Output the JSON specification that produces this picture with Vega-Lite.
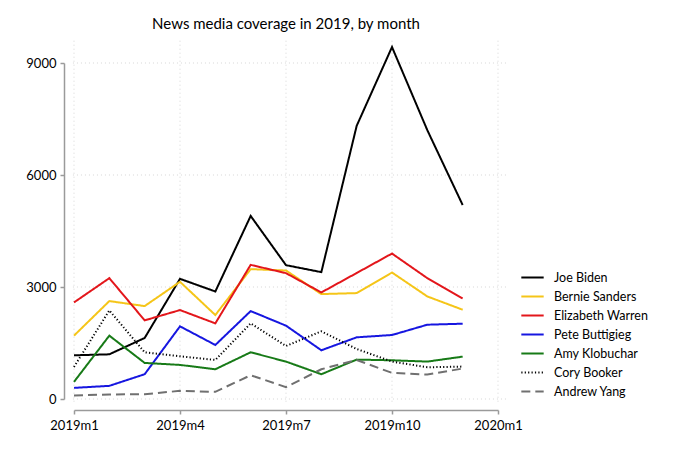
{
  "$schema": "https://vega.github.io/schema/vega-lite/v6.json",
  "description": "News media coverage in 2019, by month",
  "width": 424,
  "height": 336,
  "autosize": "none",
  "padding": {"left": 74, "top": 63, "right": 182, "bottom": 54},
  "title": {
    "text": "News media coverage in 2019, by month",
    "font": "Lato",
    "fontSize": 15,
    "fontWeight": "normal",
    "color": "#000",
    "anchor": "middle",
    "frame": "group",
    "offset": 7
  },
  "datasets": {
    "cov": [
      {"m": 0, "name": "Joe Biden", "v": 1170},
      {"m": 1, "name": "Joe Biden", "v": 1197},
      {"m": 2, "name": "Joe Biden", "v": 1635},
      {"m": 3, "name": "Joe Biden", "v": 3219},
      {"m": 4, "name": "Joe Biden", "v": 2880},
      {"m": 5, "name": "Joe Biden", "v": 4903},
      {"m": 6, "name": "Joe Biden", "v": 3585},
      {"m": 7, "name": "Joe Biden", "v": 3398},
      {"m": 8, "name": "Joe Biden", "v": 7316},
      {"m": 9, "name": "Joe Biden", "v": 9427},
      {"m": 10, "name": "Joe Biden", "v": 7200},
      {"m": 11, "name": "Joe Biden", "v": 5196},
      {"m": 0, "name": "Bernie Sanders", "v": 1697},
      {"m": 1, "name": "Bernie Sanders", "v": 2623},
      {"m": 2, "name": "Bernie Sanders", "v": 2489},
      {"m": 3, "name": "Bernie Sanders", "v": 3139},
      {"m": 4, "name": "Bernie Sanders", "v": 2249},
      {"m": 5, "name": "Bernie Sanders", "v": 3478},
      {"m": 6, "name": "Bernie Sanders", "v": 3442},
      {"m": 7, "name": "Bernie Sanders", "v": 2810},
      {"m": 8, "name": "Bernie Sanders", "v": 2837},
      {"m": 9, "name": "Bernie Sanders", "v": 3388},
      {"m": 10, "name": "Bernie Sanders", "v": 2747},
      {"m": 11, "name": "Bernie Sanders", "v": 2391},
      {"m": 0, "name": "Elizabeth Warren", "v": 2587},
      {"m": 1, "name": "Elizabeth Warren", "v": 3237},
      {"m": 2, "name": "Elizabeth Warren", "v": 2106},
      {"m": 3, "name": "Elizabeth Warren", "v": 2382},
      {"m": 4, "name": "Elizabeth Warren", "v": 2026},
      {"m": 5, "name": "Elizabeth Warren", "v": 3593},
      {"m": 6, "name": "Elizabeth Warren", "v": 3371},
      {"m": 7, "name": "Elizabeth Warren", "v": 2854},
      {"m": 8, "name": "Elizabeth Warren", "v": 3375},
      {"m": 9, "name": "Elizabeth Warren", "v": 3896},
      {"m": 10, "name": "Elizabeth Warren", "v": 3237},
      {"m": 11, "name": "Elizabeth Warren", "v": 2694},
      {"m": 0, "name": "Pete Buttigieg", "v": 298},
      {"m": 1, "name": "Pete Buttigieg", "v": 352},
      {"m": 2, "name": "Pete Buttigieg", "v": 664},
      {"m": 3, "name": "Pete Buttigieg", "v": 1946},
      {"m": 4, "name": "Pete Buttigieg", "v": 1447},
      {"m": 5, "name": "Pete Buttigieg", "v": 2355},
      {"m": 6, "name": "Pete Buttigieg", "v": 1964},
      {"m": 7, "name": "Pete Buttigieg", "v": 1305},
      {"m": 8, "name": "Pete Buttigieg", "v": 1652},
      {"m": 9, "name": "Pete Buttigieg", "v": 1714},
      {"m": 10, "name": "Pete Buttigieg", "v": 1990},
      {"m": 11, "name": "Pete Buttigieg", "v": 2017},
      {"m": 0, "name": "Amy Klobuchar", "v": 459},
      {"m": 1, "name": "Amy Klobuchar", "v": 1697},
      {"m": 2, "name": "Amy Klobuchar", "v": 966},
      {"m": 3, "name": "Amy Klobuchar", "v": 913},
      {"m": 4, "name": "Amy Klobuchar", "v": 797},
      {"m": 5, "name": "Amy Klobuchar", "v": 1251},
      {"m": 6, "name": "Amy Klobuchar", "v": 1002},
      {"m": 7, "name": "Amy Klobuchar", "v": 664},
      {"m": 8, "name": "Amy Klobuchar", "v": 1055},
      {"m": 9, "name": "Amy Klobuchar", "v": 1037},
      {"m": 10, "name": "Amy Klobuchar", "v": 1002},
      {"m": 11, "name": "Amy Klobuchar", "v": 1135},
      {"m": 0, "name": "Cory Booker", "v": 859},
      {"m": 1, "name": "Cory Booker", "v": 2373},
      {"m": 2, "name": "Cory Booker", "v": 1251},
      {"m": 3, "name": "Cory Booker", "v": 1144},
      {"m": 4, "name": "Cory Booker", "v": 1046},
      {"m": 5, "name": "Cory Booker", "v": 2026},
      {"m": 6, "name": "Cory Booker", "v": 1420},
      {"m": 7, "name": "Cory Booker", "v": 1812},
      {"m": 8, "name": "Cory Booker", "v": 1340},
      {"m": 9, "name": "Cory Booker", "v": 1002},
      {"m": 10, "name": "Cory Booker", "v": 850},
      {"m": 11, "name": "Cory Booker", "v": 868},
      {"m": 0, "name": "Andrew Yang", "v": 94},
      {"m": 1, "name": "Andrew Yang", "v": 120},
      {"m": 2, "name": "Andrew Yang", "v": 129},
      {"m": 3, "name": "Andrew Yang", "v": 218},
      {"m": 4, "name": "Andrew Yang", "v": 192},
      {"m": 5, "name": "Andrew Yang", "v": 637},
      {"m": 6, "name": "Andrew Yang", "v": 316},
      {"m": 7, "name": "Andrew Yang", "v": 797},
      {"m": 8, "name": "Andrew Yang", "v": 1046},
      {"m": 9, "name": "Andrew Yang", "v": 699},
      {"m": 10, "name": "Andrew Yang", "v": 655},
      {"m": 11, "name": "Andrew Yang", "v": 815}
    ],
    "xgrid": [{"m": 0}, {"m": 3}, {"m": 6}, {"m": 9}, {"m": 12}],
    "ygrid": [{"v": 0}, {"v": 3000}, {"v": 6000}, {"v": 9000}]
  },
  "layer": [
    {
      "data": {"name": "xgrid"},
      "mark": {"type": "rule", "color": "#d6d6d6", "strokeDash": [1, 3], "strokeWidth": 1},
      "encoding": {
        "x": {"field": "m", "type": "quantitative"},
        "y": {"datum": -72},
        "y2": {"datum": 9625}
      }
    },
    {
      "data": {"name": "ygrid"},
      "mark": {"type": "rule", "color": "#d6d6d6", "strokeDash": [1, 3], "strokeWidth": 1},
      "encoding": {
        "y": {"field": "v", "type": "quantitative"},
        "x": {"datum": -0.03},
        "x2": {"datum": 12.25}
      }
    },
    {
      "data": {"name": "cov"},
      "mark": {"type": "line", "strokeWidth": 2},
      "encoding": {
        "x": {
          "field": "m",
          "type": "quantitative",
          "scale": {"domain": [0, 12], "nice": false, "zero": false},
          "axis": {
            "title": null,
            "values": [0, 3, 6, 9, 12],
            "labelExpr": "(2019 + floor(datum.value / 12)) + 'm' + (datum.value % 12 + 1)",
            "labelFlush": false,
            "offset": 11,
            "grid": false,
            "labelPadding": 5
          }
        },
        "y": {
          "field": "v",
          "type": "quantitative",
          "scale": {"domain": [0, 9000], "nice": false},
          "axis": {
            "title": null,
            "values": [0, 3000, 6000, 9000],
            "format": "d",
            "labelFlush": false,
            "offset": 10,
            "grid": false,
            "labelPadding": 4
          }
        },
        "color": {
          "field": "name",
          "type": "nominal",
          "scale": {
            "domain": ["Joe Biden", "Bernie Sanders", "Elizabeth Warren", "Pete Buttigieg", "Amy Klobuchar", "Cory Booker", "Andrew Yang"],
            "range": ["#000000", "#f5c518", "#e3161b", "#1616e0", "#177a17", "#000000", "#707070"]
          },
          "legend": {"title": null}
        },
        "strokeDash": {
          "field": "name",
          "type": "nominal",
          "scale": {
            "domain": ["Joe Biden", "Bernie Sanders", "Elizabeth Warren", "Pete Buttigieg", "Amy Klobuchar", "Cory Booker", "Andrew Yang"],
            "range": [[1, 0], [1, 0], [1, 0], [1, 0], [1, 0], [1.2, 2.2], [9, 5]]
          },
          "legend": {"title": null}
        }
      }
    }
  ],
  "config": {
    "font": "Lato",
    "view": {"stroke": null},
    "axis": {
      "domainColor": "#9a9a9a",
      "domainWidth": 1.5,
      "tickColor": "#9a9a9a",
      "tickWidth": 1.5,
      "tickSize": 4,
      "labelFont": "Lato",
      "labelFontSize": 13,
      "labelColor": "#000"
    },
    "legend": {
      "orient": "none",
      "legendX": 446,
      "legendY": 202,
      "symbolType": "stroke",
      "symbolSize": 500,
      "symbolStrokeWidth": 2,
      "labelFont": "Lato",
      "labelFontSize": 12.5,
      "labelColor": "#000",
      "labelOffset": 9,
      "rowPadding": 0
    }
  }
}
